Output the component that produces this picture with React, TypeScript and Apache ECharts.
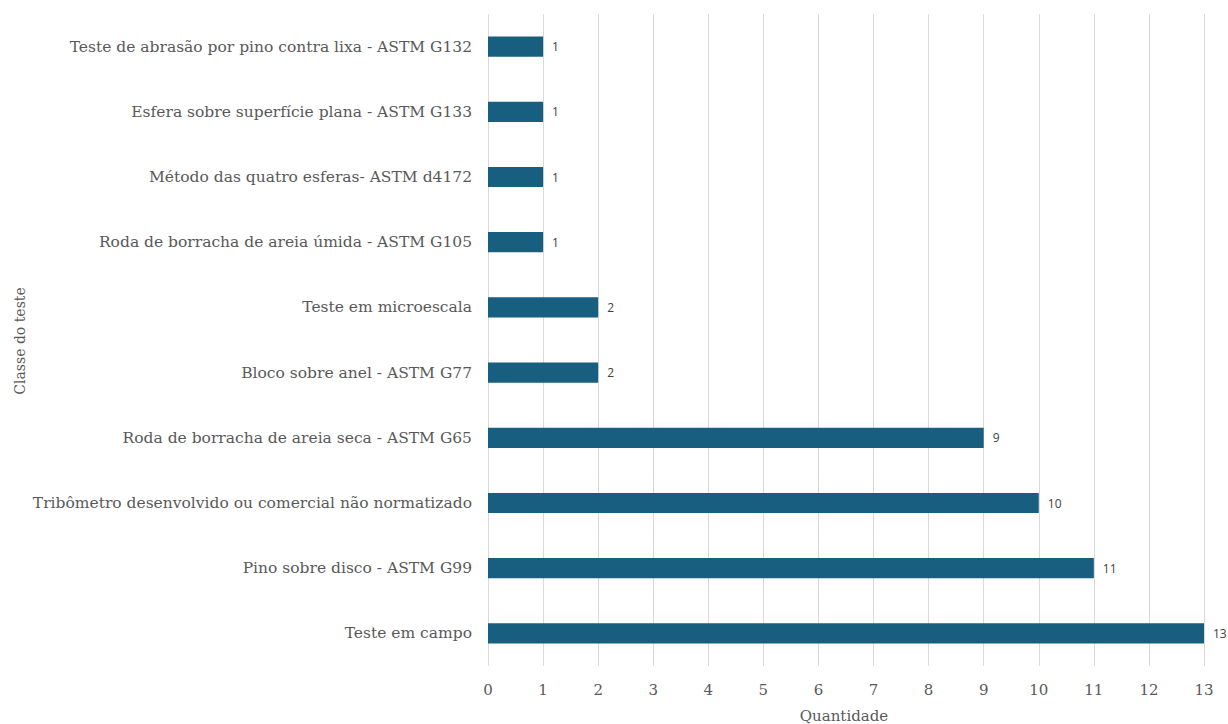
import React, { useEffect, useRef } from "react";
import * as echarts from "echarts";

// Test classes, bottom to top as drawn on the category axis
const categories = [
  "Teste em campo",
  "Pino sobre disco - ASTM G99",
  "Tribômetro desenvolvido ou comercial não normatizado",
  "Roda de borracha de areia seca - ASTM G65",
  "Bloco sobre anel - ASTM G77",
  "Teste em microescala",
  "Roda de borracha de areia úmida - ASTM G105",
  "Método das quatro esferas- ASTM d4172",
  "Esfera sobre superfície plana - ASTM G133",
  "Teste de abrasão por pino contra lixa - ASTM G132",
];

const quantities = [13, 11, 10, 9, 2, 2, 1, 1, 1, 1];

const xTicks = { min: 0, max: 13, interval: 1 };

const serif = "'DejaVu Serif', 'Liberation Serif', serif";

export default function App() {
  const ref = useRef<HTMLDivElement>(null);

  useEffect(() => {
    if (!ref.current) return;
    const chart = echarts.init(ref.current, undefined, { renderer: "svg" });
    chart.setOption({
      animation: false,
      grid: { left: 488, right: 24, top: 14, bottom: 58, containLabel: false },
      xAxis: {
        type: "value",
        min: xTicks.min,
        max: xTicks.max,
        interval: xTicks.interval,
        axisLine: { show: false },
        axisTick: { show: false },
        splitLine: { show: true, lineStyle: { color: "#d9d9d9", width: 1 } },
        axisLabel: { color: "#595959", fontFamily: serif, fontSize: 15, margin: 16 },
      },
      yAxis: {
        type: "category",
        data: categories,
        axisLine: { show: false },
        axisTick: { show: false },
        splitLine: { show: false },
        axisLabel: { color: "#595959", fontFamily: serif, fontSize: 15.5, margin: 16 },
      },
      series: [
        {
          type: "bar",
          data: quantities,
          barWidth: "31%",
          itemStyle: { color: "#175e7f" },
          label: {
            show: true,
            position: "right",
            distance: 9,
            color: "#404040",
            fontFamily: "'Open Sans', 'DejaVu Sans', sans-serif",
            fontSize: 12,
          },
        },
      ],
      graphic: [
        {
          type: "text",
          x: 844,
          y: 716,
          style: {
            text: "Quantidade",
            fill: "#595959",
            font: `15px ${serif}`,
            align: "center",
            verticalAlign: "middle",
          },
        },
        {
          type: "text",
          x: 20,
          y: 341,
          rotation: Math.PI / 2,
          style: {
            text: "Classe do teste",
            fill: "#595959",
            font: `14px ${serif}`,
            align: "center",
            verticalAlign: "middle",
          },
        },
      ],
    });
    return () => chart.dispose();
  }, []);

  return <div ref={ref} style={{ width: 1228, height: 724, position: "absolute", left: 0, top: 0 }} />;
}
